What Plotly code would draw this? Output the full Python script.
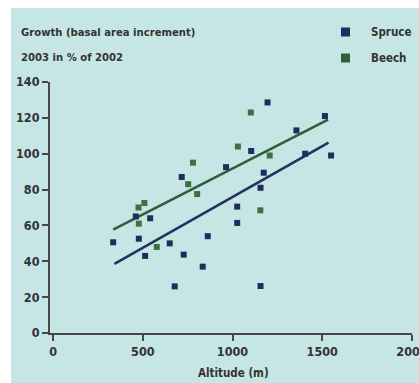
import plotly.graph_objects as go

# ---- data ----
spruce_alt = [335, 478, 461, 541, 513, 650, 728, 717, 862, 834, 678, 964,
              1026, 1026, 1104, 1156, 1174, 1156, 1195, 1356, 1405, 1515, 1549]
spruce_growth = [50.6, 52.6, 65, 64, 43, 50, 43.7, 87, 54, 37, 26, 92.5,
                 70.5, 61.4, 101.5, 81, 89.4, 26.2, 128.6, 113, 100, 121, 99]
beech_alt = [476, 509, 478, 578, 753, 780, 803, 1030, 1102, 1155, 1207]
beech_growth = [70, 72.5, 61, 48, 83, 95, 77.5, 104, 123, 68.4, 99]

spruce_fit_alt = [342, 1535]
spruce_fit_growth = [38.6, 106.2]
beech_fit_alt = [335, 1532]
beech_fit_growth = [57.7, 119]

series_names = ["Spruce", "Beech"]
x_ticks = [0, 500, 1000, 1500, 2000]
y_ticks = [0, 20, 40, 60, 80, 100, 120, 140]
title_lines = ["Growth (basal area increment)", "2003 in % of 2002"]
x_title = "Altitude (m)"

# ---- style ----
BG = "#c6e6e6"
SPRUCE_PT = "#1f2c5e"
SPRUCE_LN = "#24315f"
BEECH_PT = "#3e7046"
BEECH_LN = "#2f5e3a"
AXIS = "#474747"
TXT = "#333333"
FONT = "DejaVu Sans Condensed, DejaVu Sans, sans-serif"

W, H = 419, 383
L, R, T, B = 50, 7, 82, 50
PW, PH = W - L - R, H - T - B


def px(xp):
    return (xp - L) / PW


def py(yp):
    return (H - B - yp) / PH


fig = go.Figure()
fig.add_trace(go.Scatter(x=spruce_fit_alt, y=spruce_fit_growth, mode="lines",
                         line=dict(color=SPRUCE_LN, width=2.6), showlegend=False,
                         hoverinfo="skip"))
fig.add_trace(go.Scatter(x=beech_fit_alt, y=beech_fit_growth, mode="lines",
                         line=dict(color=BEECH_LN, width=2.6), showlegend=False,
                         hoverinfo="skip"))
fig.add_trace(go.Scatter(x=spruce_alt, y=spruce_growth, mode="markers",
                         name=series_names[0],
                         marker=dict(symbol="square", size=6, color=SPRUCE_PT),
                         showlegend=False))
fig.add_trace(go.Scatter(x=beech_alt, y=beech_growth, mode="markers",
                         name=series_names[1],
                         marker=dict(symbol="square", size=6, color=BEECH_PT),
                         showlegend=False))

shapes = [
    dict(type="rect", xref="paper", yref="paper", layer="below",
         x0=px(11), x1=px(W + 20), y0=py(H + 20), y1=py(8),
         fillcolor=BG, line=dict(width=0)),
]
annotations = []
# legend
for i, (nm, col) in enumerate(zip(series_names, [SPRUCE_PT, BEECH_LN])):
    cy = 32 + i * 26
    shapes.append(dict(type="rect", xref="paper", yref="paper",
                       x0=px(341), x1=px(350), y0=py(cy + 4.5), y1=py(cy - 4.5),
                       fillcolor=col, line=dict(width=0)))
    annotations.append(dict(text=nm, xref="paper", yref="paper",
                            x=px(369), y=py(cy), xanchor="left", yanchor="middle",
                            showarrow=False,
                            font=dict(family=FONT, size=11.5, color=TXT, weight="bold")))
# title lines
for i, t in enumerate(title_lines):
    annotations.append(dict(text=t, xref="paper", yref="paper",
                            x=px(19), y=py(33 + i * 24), xanchor="left",
                            yanchor="middle", showarrow=False,
                            font=dict(family=FONT, size=11.2, color=TXT, weight="bold")))
# x axis title
annotations.append(dict(text=x_title, xref="paper", yref="paper",
                        x=px(233), y=py(373), xanchor="center", yanchor="middle",
                        showarrow=False,
                        font=dict(family=FONT, size=11.5, color=TXT, weight="bold")))

axis_common = dict(showline=True, linewidth=2, linecolor=AXIS, ticks="outside",
                   ticklen=6, tickwidth=2, tickcolor=AXIS, showgrid=False,
                   zeroline=False, ticklabeloverflow="allow", automargin=False,
                   tickfont=dict(family=FONT, size=12.5, color=TXT, weight="bold"))

fig.update_layout(
    width=W, height=H,
    margin=dict(l=L, r=R, t=T, b=B, autoexpand=False),
    paper_bgcolor="white",
    plot_bgcolor=BG,
    showlegend=False,
    shapes=shapes,
    annotations=annotations,
    xaxis=dict(range=[-17, 2000], tickvals=x_ticks, **axis_common),
    yaxis=dict(range=[0, 140], tickvals=y_ticks, **axis_common),
)

fig.write_html("out.html", config={"displayModeBar": False})
